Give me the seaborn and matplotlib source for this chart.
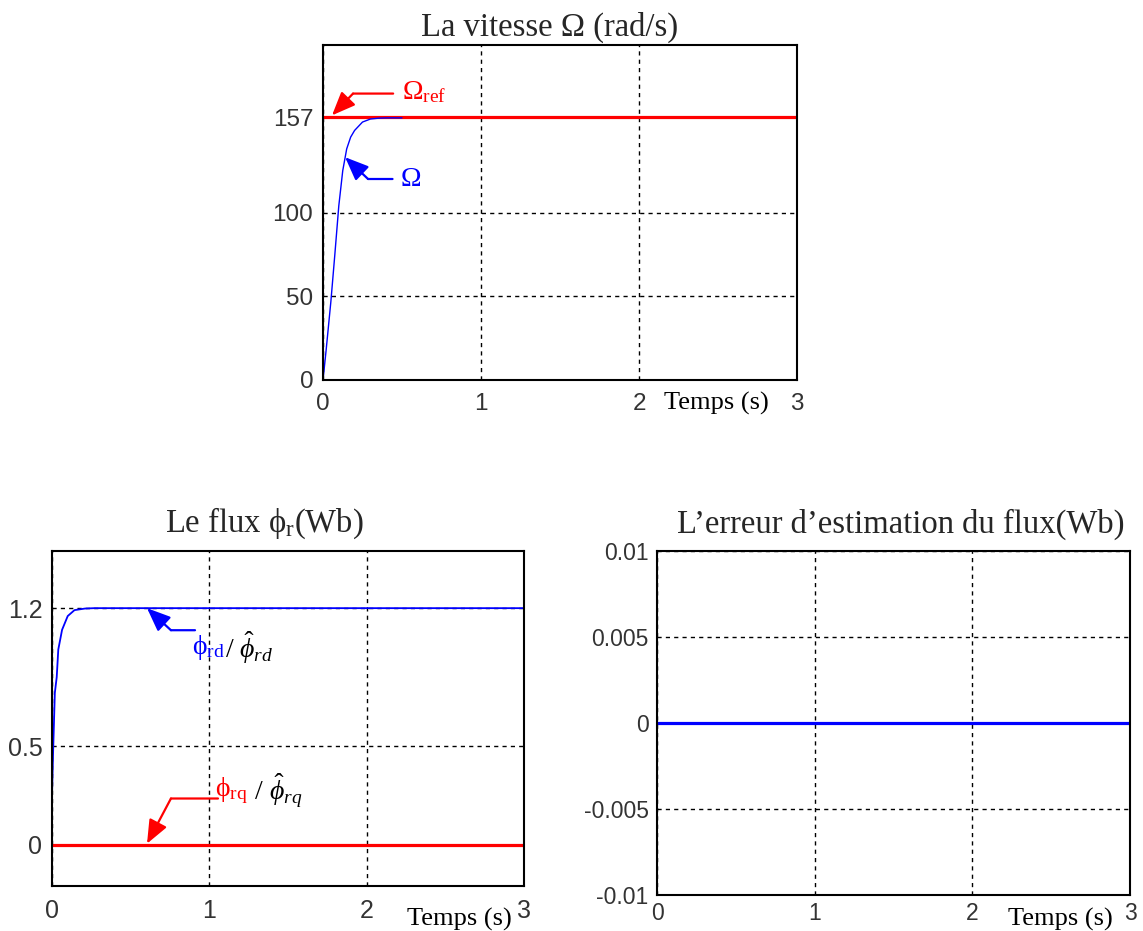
import matplotlib
matplotlib.use("Agg")
import matplotlib.pyplot as plt
import seaborn as sns

# ---- speed response (rad/s) ----
t_speed = [0, 0.02, 0.05, 0.075, 0.1, 0.125, 0.15, 0.175, 0.2, 0.25, 0.3, 0.35, 0.4, 0.5]
omega = [0, 18, 47, 75, 104, 125, 138, 145, 149, 154, 155.8, 156.3, 156.5, 156.5]
t_ref = [0, 3]
omega_ref = [157, 157]

# ---- rotor flux components (Wb) ----
t_flux = [0, 0.007, 0.018, 0.03, 0.04, 0.064, 0.1, 0.143, 0.21, 0.27, 3]
phi_rd = [0.25, 0.47, 0.77, 0.85, 0.99, 1.09, 1.16, 1.19, 1.198, 1.2, 1.2]
t_rq = [0, 3]
phi_rq = [0, 0]

# ---- flux estimation error (Wb) ----
t_err = [0, 3]
flux_err = [0, 0]

# ---- axis ticks ----
x_ticks = [0, 1, 2, 3]
speed_ticks = [0, 50, 100, 157]
flux_ticks = [0, 0.5, 1.2]
flux_tick_labels = ["0", "0.5", "1.2"]
err_ticks = [-0.01, -0.005, 0, 0.005, 0.01]
err_tick_labels = ["-0.01", "-0.005", "0", "0.005", "0.01"]

sns.set_theme(style="white")
plt.rcParams["font.family"] = ["Liberation Sans", "DejaVu Sans"]
plt.rcParams["mathtext.fontset"] = "custom"
plt.rcParams["mathtext.rm"] = "Liberation Serif"
plt.rcParams["mathtext.it"] = "Liberation Serif:italic"
plt.rcParams["mathtext.bf"] = "Liberation Serif:bold"

W, H = 1143, 931
fig = plt.figure(figsize=(W / 100, H / 100), dpi=100)
fig.patch.set_facecolor("white")


def make_axes(left, right, top, bottom):
    return fig.add_axes([left / W, 1 - bottom / H, (right - left) / W, (bottom - top) / H])


SERIF = ["Liberation Serif", "DejaVu Serif"]
BLUE = "#0000ff"
RED = "#ff0000"
TITLE_FS = 23.5
ANN_FS = 20
TIME_FS = 19


def style_axes(ax, tick_fs, xpad=9, ypad=7):
    ax.set_facecolor("white")
    ax.set_axisbelow(True)
    ax.grid(True, color="black", linestyle=(0, (3, 3)), linewidth=1.0)
    for s in ax.spines.values():
        s.set_color("black")
        s.set_linewidth(1.5)
    ax.tick_params(axis="both", length=0, labelsize=tick_fs, labelcolor="#333333")
    ax.tick_params(axis="x", pad=xpad)
    ax.tick_params(axis="y", pad=ypad)
    ax.set_xlim(0, 3)
    ax.set_xticks(x_ticks)
    ax.set_xticklabels([str(v) for v in x_ticks])
    ax.set_xlabel("")
    ax.set_ylabel("")
    if ax.get_legend() is not None:
        ax.get_legend().remove()


def time_label(ax, x, y):
    ax.text(x, y, "Temps (s)", transform=ax.transAxes, ha="center", va="baseline",
            fontfamily=SERIF, fontsize=TIME_FS, color="black")


def leader(ax, tip, elbow, end, color):
    # bent leader line ending in a filled arrowhead
    ax.annotate("", xy=elbow, xytext=end,
                arrowprops=dict(arrowstyle="-", color=color, lw=1.6,
                                shrinkA=0, shrinkB=0))
    ax.annotate("", xy=tip, xytext=elbow,
                arrowprops=dict(arrowstyle="-|>,head_length=0.8,head_width=0.33",
                                color=color, lw=1.6, mutation_scale=18,
                                shrinkA=0, shrinkB=0))


# ================= speed =================
ax1 = make_axes(323, 797, 45, 380)
sns.lineplot(x=t_ref, y=omega_ref, ax=ax1, color=RED, linewidth=2.3)
sns.lineplot(x=t_speed, y=omega, ax=ax1, color=BLUE, linewidth=1.0)
style_axes(ax1, 17.5, xpad=9, ypad=7)
ax1.set_ylim(0, 200)
ax1.set_yticks(speed_ticks)
ax1.set_yticklabels([str(v) for v in speed_ticks])
ax1.set_title("La vitesse Ω (rad/s)", fontfamily=SERIF, fontsize=TITLE_FS,
              x=0.478, pad=7)
time_label(ax1, 0.83, -0.087)
leader(ax1, (0.057, 158), (0.19, 171), (0.444, 171), RED)
ax1.text(0.5, 172, r"$\Omega_{\mathrm{ref}}$", color=RED, fontsize=ANN_FS,
         ha="left", va="center")
leader(ax1, (0.14, 133), (0.285, 120), (0.44, 120), BLUE)
ax1.text(0.49, 120, r"$\Omega$", color=BLUE, fontsize=ANN_FS, ha="left", va="center")

# ================= rotor flux =================
ax2 = make_axes(52, 524, 551, 886)
sns.lineplot(x=t_rq, y=phi_rq, ax=ax2, color=RED, linewidth=2.3)
sns.lineplot(x=t_flux, y=phi_rd, ax=ax2, color=BLUE, linewidth=1.3)
style_axes(ax2, 18, xpad=9, ypad=7)
ax2.set_ylim(-0.21, 1.49)
ax2.set_yticks(flux_ticks)
ax2.set_yticklabels(flux_tick_labels)
ax2.set_title(r"Le flux $\mathrm{\phi_{r}}$(Wb)", fontfamily=SERIF,
              fontsize=TITLE_FS, x=0.45, pad=14)
time_label(ax2, 0.864, -0.119)

leader(ax2, (0.604, 1.2), (0.756, 1.088), (0.909, 1.088), BLUE)
t_rd = ax2.text(0.89, 1.0, r"$\mathrm{\phi_{rd}}$", color=BLUE, fontsize=ANN_FS,
                ha="left", va="center")
ax2.annotate(r"$/\ \hat{\phi}_{rd}$", xy=(1.0, 0.5), xycoords=t_rd,
             xytext=(0, 0), textcoords="offset points",
             color="black", fontsize=ANN_FS, ha="left", va="center")

leader(ax2, (0.604, 0.005), (0.756, 0.234), (1.055, 0.234), RED)
t_rq_lbl = ax2.text(1.036, 0.275, r"$\mathrm{\phi_{rq}}$", color=RED, fontsize=ANN_FS,
                    ha="left", va="center")
ax2.annotate(r"$\ /\ \hat{\phi}_{rq}$", xy=(1.0, 0.5), xycoords=t_rq_lbl,
             xytext=(0, 0), textcoords="offset points",
             color="black", fontsize=ANN_FS, ha="left", va="center")

# ================= estimation error =================
ax3 = make_axes(657, 1130, 551, 895)
sns.lineplot(x=t_err, y=flux_err, ax=ax3, color=BLUE, linewidth=2.3)
style_axes(ax3, 16.5, xpad=5, ypad=6)
ax3.set_ylim(-0.01, 0.01)
ax3.set_yticks(err_ticks)
ax3.set_yticklabels(err_tick_labels)
ax3.set_title("L’erreur d’estimation du flux(Wb)", fontfamily=SERIF,
              fontsize=TITLE_FS, x=0.515, pad=13)
time_label(ax3, 0.852, -0.09)

fig.savefig("out.png", dpi=100, facecolor="white")
